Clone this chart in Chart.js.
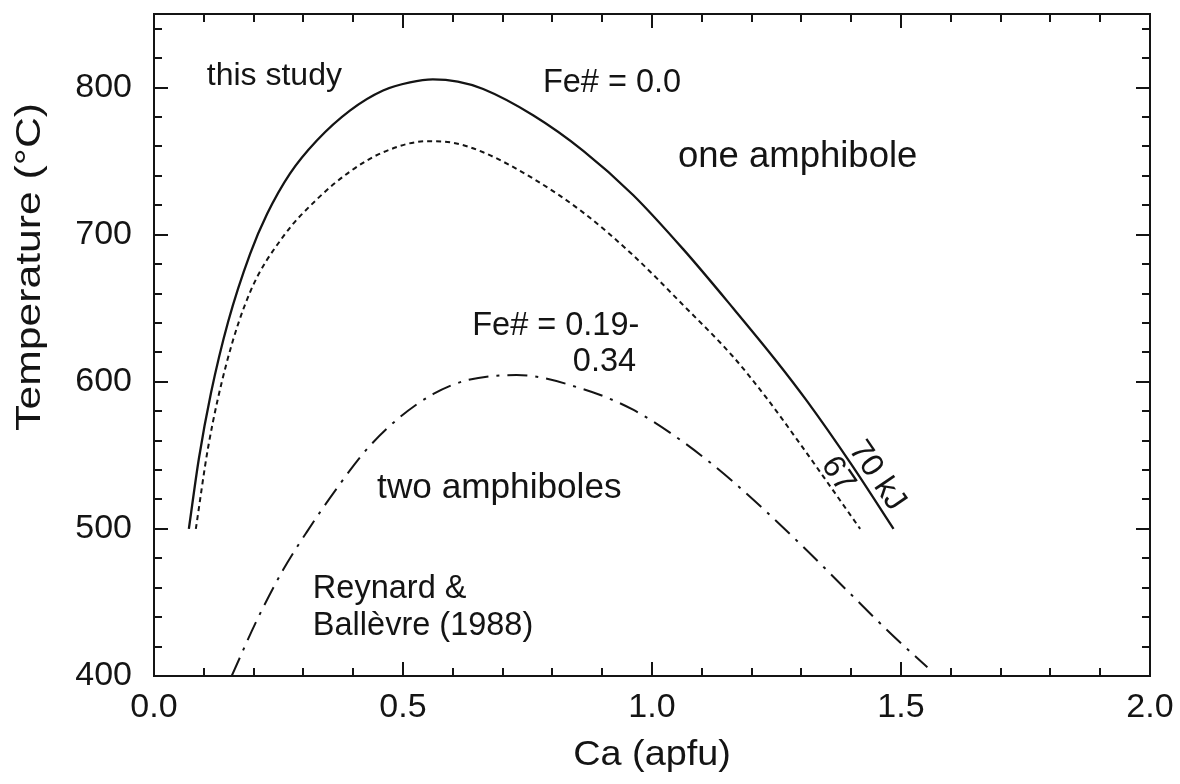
<!DOCTYPE html>
<html>
<head>
<meta charset="utf-8">
<script src="https://cdn.jsdelivr.net/npm/chart.js@4.4.1/dist/chart.umd.min.js"></script>
<style>
  html, body { margin: 0; padding: 0; background: #ffffff; }
  #wrap { width: 1180px; height: 784px; position: relative; }
</style>
</head>
<body>
<div id="wrap"><canvas id="c" width="1180" height="784"></canvas></div>
<script>
// Solvus, Fe# = 0.0, W = 70 kJ (this study)
const ca70 = [0.070, 0.090, 0.1145, 0.149, 0.193, 0.227, 0.273, 0.327, 0.394, 0.460, 0.514, 0.560, 0.610, 0.661, 0.762, 0.862, 0.962, 1.063, 1.163, 1.250, 1.311, 1.400, 1.485];
const t70  = [500, 547.5, 592.5, 641, 687, 714, 741.5, 764, 784.5, 798, 803.5, 805.5, 804, 799, 781, 757, 727, 690, 650, 614, 587, 544, 500];

// Solvus, Fe# = 0.0, W = 67 kJ (this study)
const ca67 = [0.084, 0.109, 0.146, 0.193, 0.260, 0.327, 0.394, 0.460, 0.548, 0.600, 0.661, 0.762, 0.862, 0.962, 1.063, 1.163, 1.230, 1.297, 1.418];
const t67  = [500, 556, 613, 661, 699, 724, 743, 756, 763.5, 762.5, 756, 738, 715, 686, 652, 617, 589, 558, 500];

// Solvus, Fe# = 0.19-0.34 (Reynard & Ballèvre 1988)
const caRB = [0.156, 0.206, 0.259, 0.307, 0.367, 0.427, 0.494, 0.561, 0.628, 0.728, 0.862, 0.962, 1.063, 1.163, 1.297, 1.398, 1.485, 1.553];
const tRB  = [400, 437.5, 472, 498, 527.5, 554, 576, 591.7, 601, 604.6, 595, 581, 559, 532, 490, 456, 427, 406];

// Axis tick labels
const xTickLabels = ['0.0', '0.5', '1.0', '1.5', '2.0'];
const yTickLabels = ['400', '500', '600', '700', '800'];

const FONT = "'Liberation Sans', Arial, Helvetica, sans-serif";
const INK = '#141414';

function pts(xs, ys) { return xs.map((x, i) => ({ x: x, y: ys[i] })); }
function labelFor(value, labels) {
  return labels.find(l => Math.abs(parseFloat(l) - value) < 1e-6) || '';
}

// Frame with inward ticks on all four sides
const frameTicks = {
  id: 'frameTicks',
  afterDraw(chart) {
    const { ctx, chartArea: a, scales } = chart;
    ctx.save();
    ctx.strokeStyle = INK;
    ctx.lineWidth = 2;
    ctx.strokeRect(a.left, a.top, a.right - a.left, a.bottom - a.top);
    ctx.beginPath();
    scales.x.ticks.forEach(t => {
      const px = Math.round(scales.x.getPixelForValue(t.value));
      const len = labelFor(t.value, xTickLabels) ? 14 : 8;
      ctx.moveTo(px, a.bottom); ctx.lineTo(px, a.bottom - len);
      ctx.moveTo(px, a.top); ctx.lineTo(px, a.top + len);
    });
    scales.y.ticks.forEach(t => {
      const py = Math.round(scales.y.getPixelForValue(t.value));
      const len = labelFor(t.value, yTickLabels) ? 14 : 8;
      ctx.moveTo(a.left, py); ctx.lineTo(a.left + len, py);
      ctx.moveTo(a.right, py); ctx.lineTo(a.right - len, py);
    });
    ctx.stroke();
    ctx.restore();
  }
};

// In-plot labels, placed in data units
const notes = [
  { text: 'this study',      x: 0.106, y: 802, size: 32 },
  { text: 'Fe# = 0.0',       x: 0.781, y: 797, size: 32.5 },
  { text: 'one amphibole',   x: 1.052, y: 746, size: 36.5 },
  { text: 'Fe# = 0.19-',     x: 0.639, y: 632, size: 32.5 },
  { text: '0.34',            x: 0.841, y: 607, size: 32.5 },
  { text: 'two amphiboles',  x: 0.448, y: 521, size: 35.2 },
  { text: 'Reynard &',       x: 0.319, y: 453, size: 32.5 },
  { text: 'Ballèvre (1988)', x: 0.319, y: 428, size: 32.5 }
];
const curveTags = [
  { text: '70 kJ', x: 1.452, y: 536, size: 32, angle: 55.7 },
  { text: '67',    x: 1.373, y: 537, size: 32, angle: 55.7 }
];

const labels = {
  id: 'labels',
  afterDraw(chart) {
    const { ctx, chartArea: a, scales } = chart;
    ctx.save();
    ctx.fillStyle = INK;
    ctx.textAlign = 'left';
    ctx.textBaseline = 'alphabetic';
    notes.forEach(n => {
      ctx.font = n.size + 'px ' + FONT;
      ctx.fillText(n.text, scales.x.getPixelForValue(n.x), scales.y.getPixelForValue(n.y));
    });
    curveTags.forEach(n => {
      ctx.save();
      ctx.translate(scales.x.getPixelForValue(n.x), scales.y.getPixelForValue(n.y));
      ctx.rotate(n.angle * Math.PI / 180);
      ctx.font = n.size + 'px ' + FONT;
      ctx.textAlign = 'center';
      ctx.textBaseline = 'middle';
      ctx.fillText(n.text, 0, 0);
      ctx.restore();
    });
    // axis titles (slightly wide lettering)
    ctx.font = '35px ' + FONT;
    ctx.textAlign = 'center';
    ctx.textBaseline = 'alphabetic';
    ctx.save();
    ctx.translate((a.left + a.right) / 2, 765);
    ctx.scale(1.08, 1);
    ctx.fillText('Ca (apfu)', 0, 0);
    ctx.restore();
    ctx.save();
    ctx.translate(40, 267);
    ctx.rotate(-Math.PI / 2);
    ctx.scale(1.22, 1);
    ctx.fillText('Temperature (°C)', 0, 0);
    ctx.restore();
    ctx.restore();
  }
};

const lineStyle = {
  borderColor: INK,
  borderWidth: 2.3,
  pointRadius: 0,
  fill: false,
  cubicInterpolationMode: 'monotone'
};

function noEdgePadding(s) {
  s.paddingTop = 0; s.paddingBottom = 0; s.paddingLeft = 0; s.paddingRight = 0;
}

new Chart(document.getElementById('c'), {
  type: 'line',
  data: {
    datasets: [
      Object.assign({ label: '70 kJ', data: pts(ca70, t70), borderDash: [] }, lineStyle),
      Object.assign({ label: '67 kJ', data: pts(ca67, t67), borderDash: [5, 4] }, lineStyle, { borderWidth: 2 }),
      Object.assign({ label: 'Reynard & Ballèvre (1988)', data: pts(caRB, tRB), borderDash: [20, 8, 3, 8] }, lineStyle, { borderWidth: 2 })
    ]
  },
  options: {
    responsive: false,
    animation: false,
    layout: { padding: { top: 14, right: 30, left: 0, bottom: 0 } },
    plugins: { legend: { display: false }, tooltip: { enabled: false } },
    scales: {
      x: {
        type: 'linear',
        min: 0, max: 2,
        afterFit(s) { s.height = 108; noEdgePadding(s); },
        grid: { display: false },
        border: { display: false },
        ticks: {
          stepSize: 0.1,
          autoSkip: false,
          maxRotation: 0,
          padding: 3,
          color: INK,
          font: { family: FONT, size: 34 },
          callback: v => labelFor(v, xTickLabels)
        }
      },
      y: {
        type: 'linear',
        min: 400, max: 850,
        afterFit(s) { s.width = 154; noEdgePadding(s); },
        grid: { display: false },
        border: { display: false },
        ticks: {
          stepSize: 20,
          includeBounds: false,
          autoSkip: false,
          padding: 14,
          color: INK,
          font: { family: FONT, size: 34 },
          callback: v => labelFor(v, yTickLabels)
        }
      }
    }
  },
  plugins: [frameTicks, labels]
});
</script>
</body>
</html>
